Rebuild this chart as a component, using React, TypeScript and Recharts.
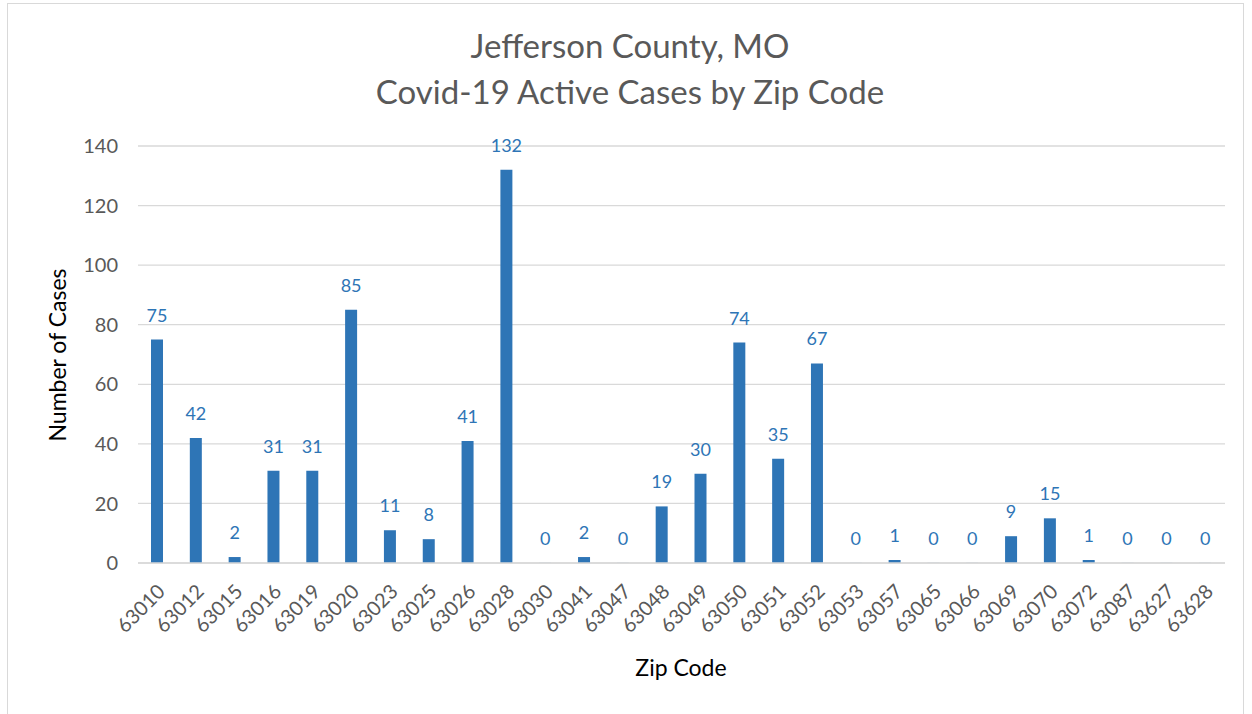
import { Bar, BarChart, CartesianGrid, LabelList, XAxis, YAxis } from 'recharts';

const zipCodes = [
  '63010', '63012', '63015', '63016', '63019', '63020', '63023', '63025', '63026', '63028',
  '63030', '63041', '63047', '63048', '63049', '63050', '63051', '63052', '63053', '63057',
  '63065', '63066', '63069', '63070', '63072', '63087', '63627', '63628',
];

const activeCases = [
  75, 42, 2, 31, 31, 85, 11, 8, 41, 132,
  0, 2, 0, 19, 30, 74, 35, 67, 0, 1,
  0, 0, 9, 15, 1, 0, 0, 0,
];

const yTicks = [0, 20, 40, 60, 80, 100, 120, 140];

const data = zipCodes.map((zip, i) => ({ zip, cases: activeCases[i] }));

const font = 'Lato, "Open Sans", sans-serif';

const ZipTick = (props: any) => {
  const { x, y, payload } = props;
  return (
    <g transform={`translate(${x - 1},${y + 12})`}>
      <text
        x={0}
        y={0}
        dy={14}
        textAnchor='end'
        transform='rotate(-45)'
        fill='#595959'
        fontSize={20}
        fontFamily={font}
      >
        {payload.value}
      </text>
    </g>
  );
};

export default function App() {
  return (
    <div style={{ position: 'absolute', left: 0, top: 0, width: 1252, height: 714, background: '#fff' }}>
      <div
        style={{
          position: 'absolute',
          left: 7,
          top: 3,
          width: 1237,
          height: 714,
          border: '1px solid #D9D9D9',
          boxSizing: 'border-box',
        }}
      />
      <div
        style={{
          position: 'absolute',
          left: 0,
          top: 22,
          width: 1260,
          textAlign: 'center',
          fontFamily: font,
          fontSize: 33,
          lineHeight: '46px',
          color: '#595959',
        }}
      >
        Jefferson County, MO
        <br />
        Covid-19 Active Cases by Zip Code
      </div>
      <div
        style={{
          position: 'absolute',
          left: 57,
          top: 355,
          transform: 'translate(-50%, -50%) rotate(-90deg)',
          whiteSpace: 'nowrap',
          fontFamily: font,
          fontSize: 23,
          color: '#000',
        }}
      >
        Number of Cases
      </div>
      <div
        style={{
          position: 'absolute',
          left: 681,
          top: 667,
          transform: 'translate(-50%, -50%)',
          whiteSpace: 'nowrap',
          fontFamily: font,
          fontSize: 23,
          color: '#000',
        }}
      >
        Zip Code
      </div>
      <div style={{ position: 'absolute', left: 0, top: 0 }}>
        <BarChart
          width={1252}
          height={714}
          data={data}
          margin={{ top: 146, right: 27, bottom: 0, left: 78 }}
        >
          <CartesianGrid vertical={false} stroke='#D9D9D9' strokeWidth={1.3} />
          <XAxis
            dataKey='zip'
            interval={0}
            tick={<ZipTick />}
            tickLine={false}
            axisLine={{ stroke: '#D9D9D9', strokeWidth: 1.3 }}
            height={151}
          />
          <YAxis
            domain={[0, 140]}
            ticks={yTicks}
            width={60}
            tickLine={false}
            axisLine={false}
            tickSize={0}
            tickMargin={20}
            tick={{ fill: '#595959', fontSize: 20, fontFamily: font }}
          />
          <Bar dataKey='cases' fill='#2E75B6' barSize={12} minPointSize={0.1} isAnimationActive={false}>
            <LabelList
              dataKey='cases'
              position='top'
              offset={18}
              fill='#2E75B6'
              fontSize={18}
              fontFamily={font}
            />
          </Bar>
        </BarChart>
      </div>
    </div>
  );
}
